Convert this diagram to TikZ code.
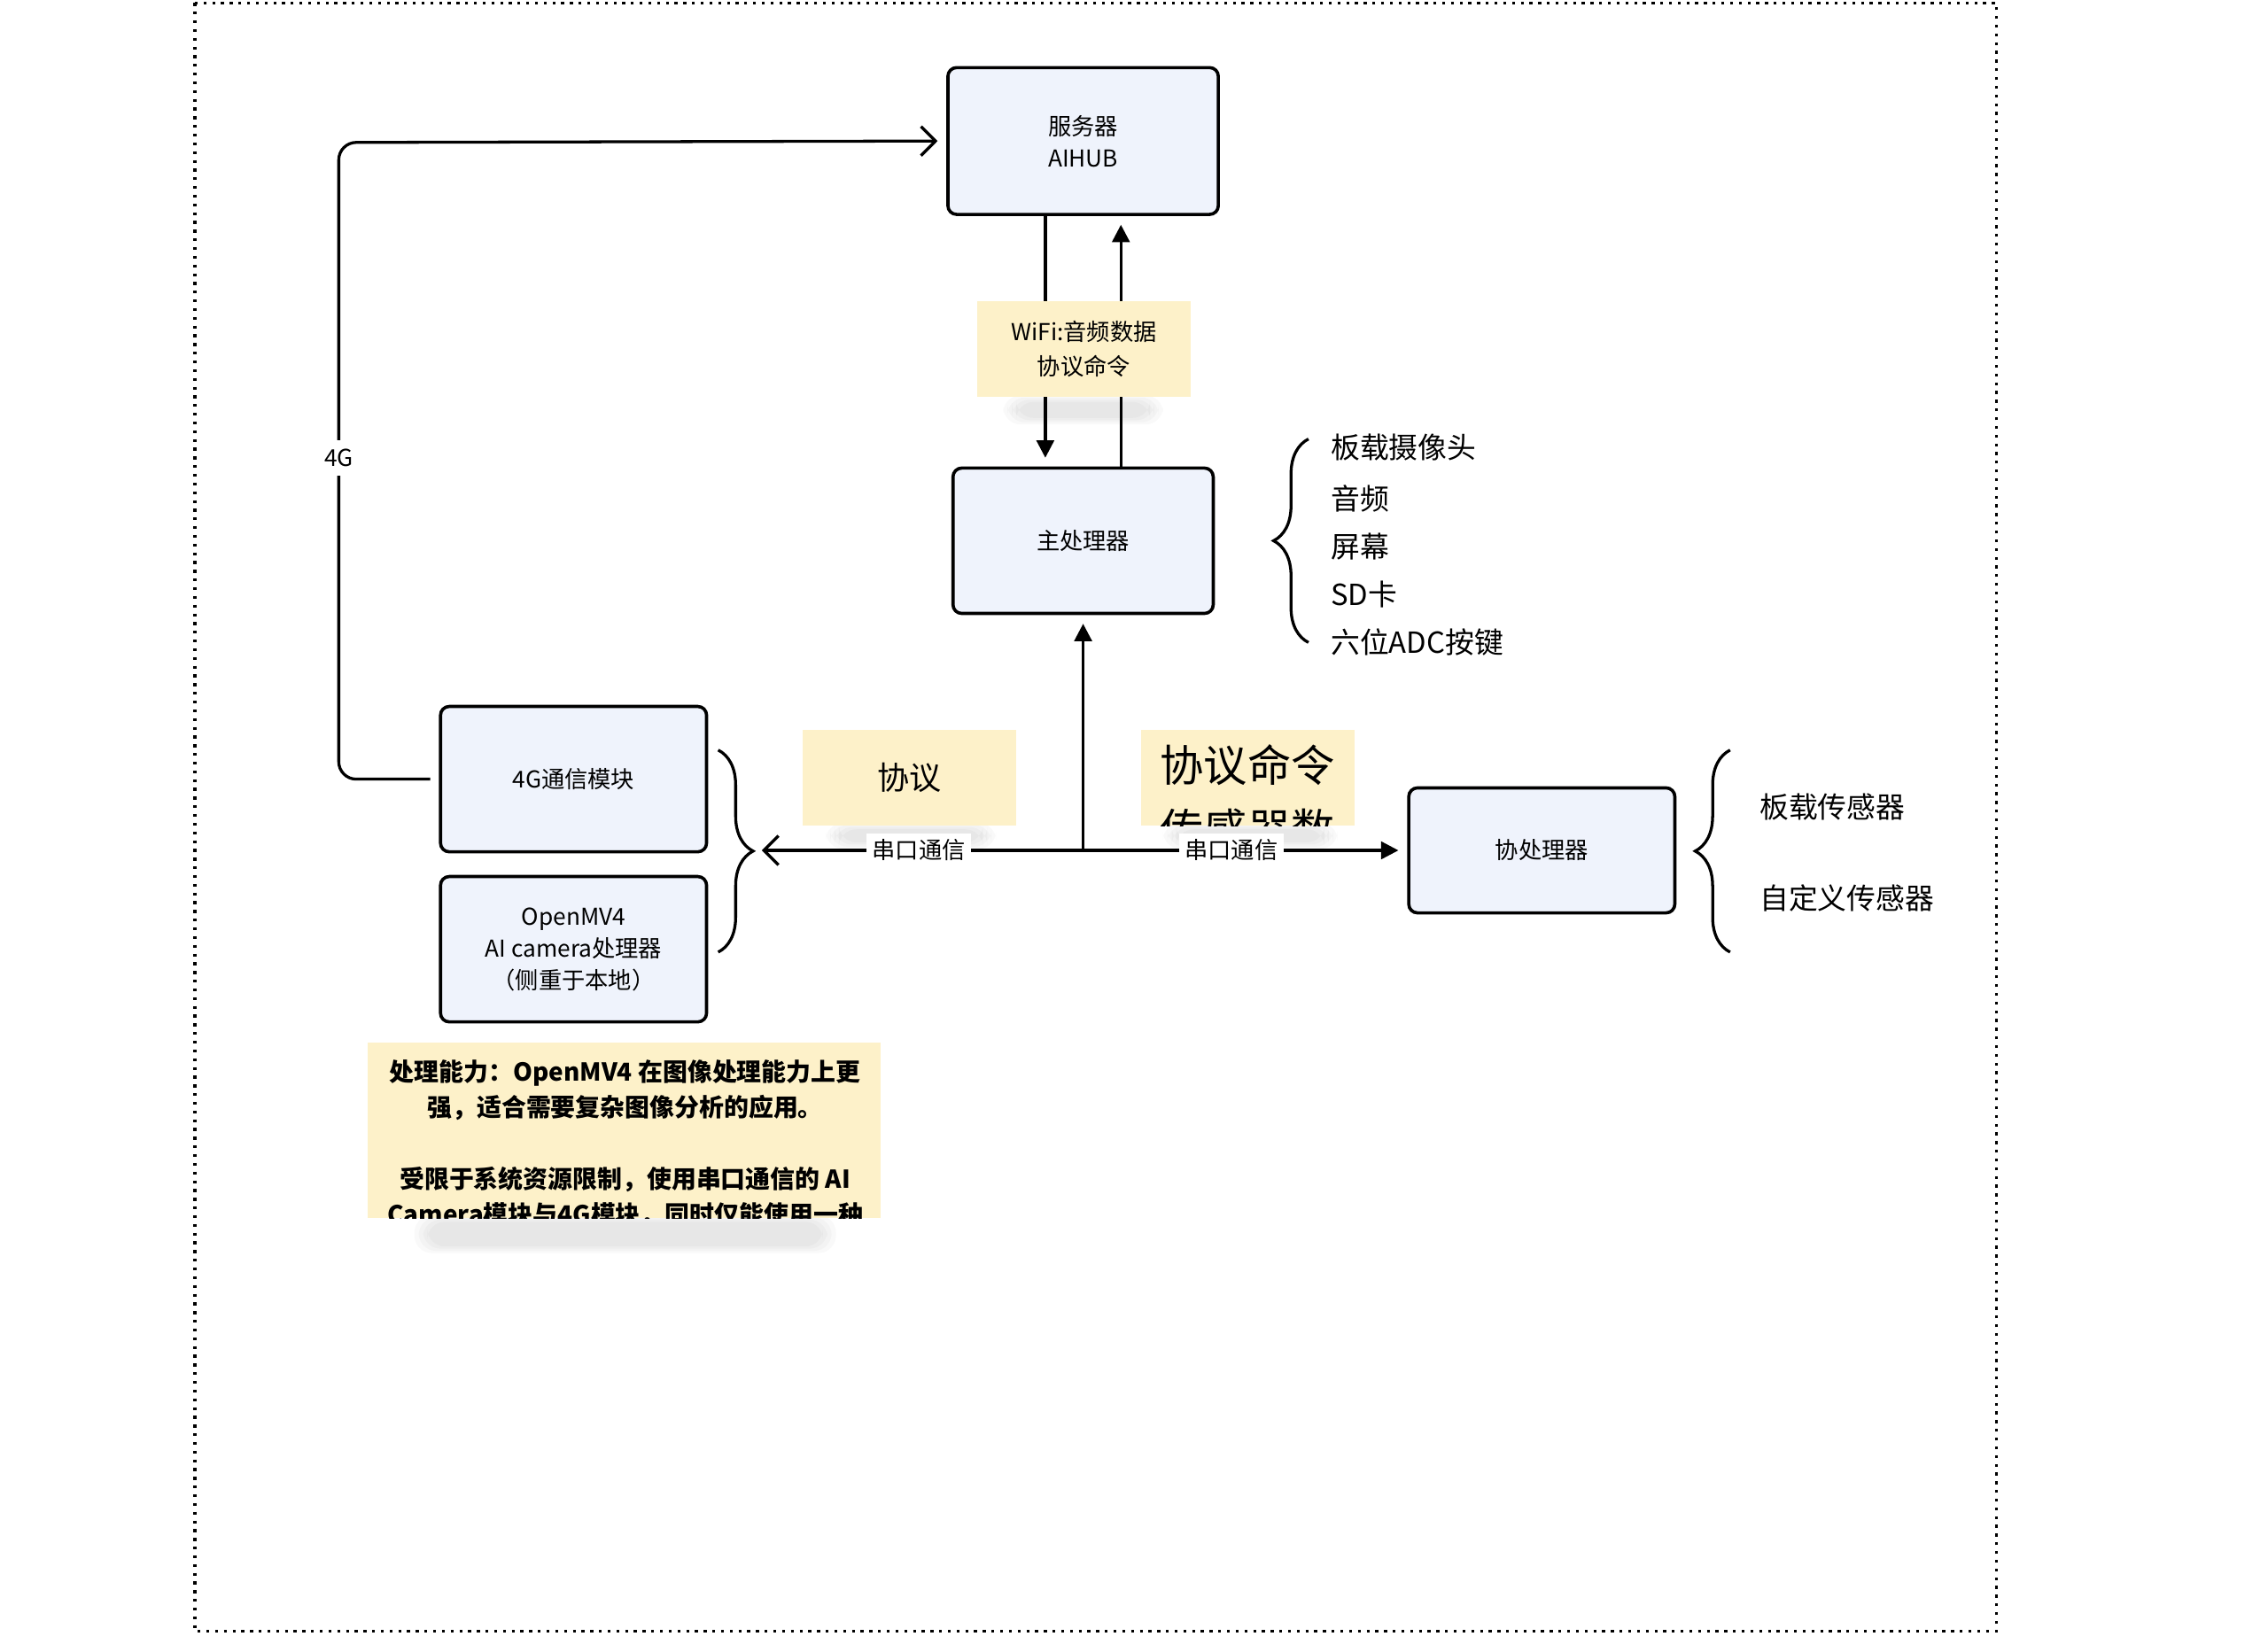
\documentclass[tikz,border=0pt]{standalone}
\usepackage{fontspec}
\setmainfont{Noto Sans CJK SC}
\usetikzlibrary{arrows.meta,positioning,decorations.pathreplacing}
\definecolor{boxfill}{HTML}{EFF3FC}
\definecolor{notefill}{HTML}{FDF1C9}
\tikzset{
  unit/.style={draw, line width=1.1pt, rounded corners=3pt, fill=boxfill, align=center,
    font=\fontsize{8}{11}\selectfont, inner sep=0pt},
  note/.style={fill=notefill, align=center, inner sep=0pt},
  link/.style={line width=1pt},
  lbl/.style={fill=white, font=\fontsize{8}{10}\selectfont, inner sep=2pt},
  item/.style={anchor=west, font=\fontsize{10}{12}\selectfont, inner sep=0pt},
  shade/.style={fill=black, opacity=.025, rounded corners=6pt}
}
\begin{document}
\begin{tikzpicture}[x=0.5pt, y=-0.5pt]
    \useasboundingbox (0,0) rectangle (1560,1136);
    % outer frame
    \draw[dotted, line width=1pt] (134,2) rectangle (1373,1122);

    % boxes
    \node[unit, minimum width=93pt, minimum height=50.5pt] (server) at (745,97) {服务器\\AIHUB};
    \node[unit, minimum width=89.5pt, minimum height=50pt] (main) at (745,372) {主处理器};
    \node[unit, minimum width=91.5pt, minimum height=50pt] (mod4g) at (394.5,536) {4G通信模块};
    \node[unit, minimum width=91.5pt, minimum height=50pt] (omv) at (394.5,653) {OpenMV4\\AI camera处理器\\（侧重于本地）};
    \node[unit, minimum width=91.5pt, minimum height=43pt] (coproc) at (1060.5,585) {协处理器};

    % soft shadows of the notes
    \foreach \a/\b/\c/\d in {690/272/800/292, 568/566/685/584, 800/566/920/584, 285/836/575/862}
      \foreach \g in {0,3,6,9}
        \fill[shade] (\a+\g,\b+\g/2) rectangle (\c-\g,\d-\g/2);

    % notes
    \node[note, minimum width=73.5pt, minimum height=33pt, font=\fontsize{11}{13}\selectfont] (proto) at (625.5,535) {协议};
    \node[note, minimum width=73.5pt, minimum height=33pt] (protocmd) at (858.5,535) {};
    \begin{scope}
      \clip (785,502) rectangle (932,568);
      \node[font=\fontsize{15}{22}\selectfont, align=center, anchor=north] at (858,505) {协议命令\\传感器数};
    \end{scope}
    \node[note, minimum width=176.5pt, minimum height=60.5pt] (remark) at (429.5,777.5) {};
    \begin{scope}
      \clip (253,717) rectangle (606,838);
      \node[font=\fontsize{8.5}{12.3}\selectfont\bfseries, align=center, anchor=north] at (430,722)
        {处理能力：OpenMV4 在图像处理能力上更\\强，适合需要复杂图像分析的应用。\\[12.3pt]
         受限于系统资源限制，使用串口通信的 AI\\Camera模块与4G模块，同时仅能使用一种};
    \end{scope}

    % server <-> main
    \draw[link, -{Triangle[length=6pt,width=6pt]}] (server.south -| 719,0) -- ([yshift=3pt]main.north -| 719,0);
    \draw[link, -{Triangle[length=6pt,width=6pt]}] (main.north -| 771,0) -- ([yshift=-3pt]server.south -| 771,0);
    \node[note, minimum width=73.5pt, minimum height=33pt, font=\fontsize{8}{12}\selectfont] (wifi) at (745.5,240) {WiFi:音频数据\\协议命令};

    % 4G uplink
    \coordinate (c4g) at (233,98);
    \draw[link, rounded corners=6pt, -{Straight Barb[length=5pt]}] ([xshift=-3pt]mod4g.west) -| (c4g) -- ([xshift=-3pt]server.west);
    \node[fill=white, font=\fontsize{8}{10}\selectfont, inner sep=3pt] (l4g) at (233,315) {4G};

    % serial bus
    \coordinate (junc) at (745,585);
    \coordinate (brL) at (524,585);
    \draw[link, -{Straight Barb[length=5pt]}] (junc) -- (brL);
    \draw[link, -{Triangle[length=6pt,width=6pt]}] (junc) -- ([yshift=-3pt]main.south);
    \draw[link, -{Triangle[length=6pt,width=6pt]}] (junc) -- ([xshift=-3pt]coproc.west);
    \node[lbl] at (632,585) {串口通信};
    \node[lbl] at (847,585) {串口通信};

    % braces
    \draw[line width=1pt, decorate, decoration={brace, amplitude=12pt}] (494,516) -- (494,655);
    \draw[line width=1pt, decorate, decoration={brace, amplitude=12pt}] (900,442) -- (900,302);
    \draw[line width=1pt, decorate, decoration={brace, amplitude=12pt}] (1190,655) -- (1190,516);

    % peripherals
    \foreach \t/\y in {板载摄像头/308, 音频/343, 屏幕/376, SD卡/409, 六位ADC按键/442}
      \node[item] at (915,\y) {\t};
    \foreach \t/\y in {板载传感器/555, 自定义传感器/618}
      \node[item] at (1210,\y) {\t};
\end{tikzpicture}
\end{document}
